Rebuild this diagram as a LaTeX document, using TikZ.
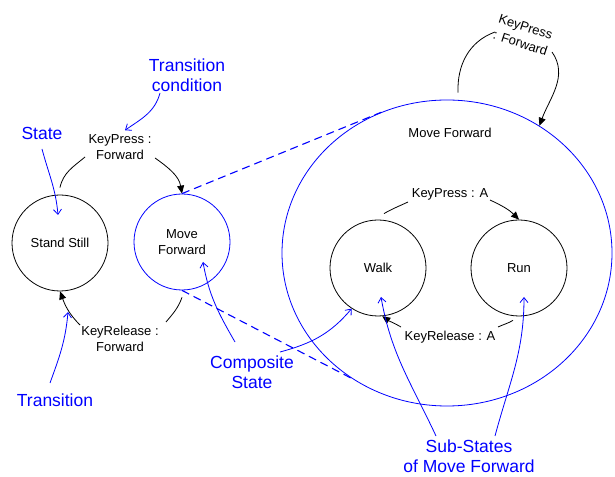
\documentclass[tikz,border=0pt]{standalone}
\usepackage{fontspec}
\setmainfont{Liberation Sans}
\usetikzlibrary{arrows.meta,shapes.geometric}
\begin{document}
\begin{tikzpicture}[x=1pt,y=1pt,
  state/.style={circle,draw,line width=0.8pt,minimum size=96pt,inner sep=0pt,font=\fontsize{13}{16}\selectfont,align=center},
  lbl/.style={font=\fontsize{13}{16}\selectfont,align=center,inner sep=1pt},
  note/.style={text=blue,font=\fontsize{17.5}{20}\selectfont,align=center,inner sep=1pt},
  trans/.style={line width=0.8pt},
  ntip/.style={-{Triangle[length=8pt,width=7pt]}},
  annot/.style={draw=blue,line width=0.8pt,-{Straight Barb[length=5pt,width=8pt]}},
  zoomline/.style={draw=blue,line width=1.1pt,dash pattern=on 8pt off 5pt}
]
\useasboundingbox (0,0) rectangle (615,476);

% states
\node[state] (ss) at (60,233) {Stand Still};
\node[state,draw=blue] (mf) at (182,234) {Move\\Forward};
\node[ellipse,draw=blue,line width=0.8pt,minimum width=330pt,minimum height=306pt] (big) at (447,223) {};
\node[lbl] (bigt) at (450,343) {Move Forward};
\node[state] (walk) at (378,208) {Walk};
\node[state] (run) at (519,208) {Run};

% transition labels
\node[lbl] (kp1) at (120,329) {KeyPress :\\Forward};
\node[lbl] (kr1) at (120,137) {KeyRelease :\\Forward};
\node[lbl] (kpA) at (450,282) {KeyPress : A};
\node[lbl] (krA) at (450,139) {KeyRelease : A};
\node[lbl,font=\fontsize{13}{17}\selectfont,rotate=-18] (kpl) at (523,441) {KeyPress\\: Forward};

% break points of the transitions at their labels
\coordinate (a1) at (85,319);  \coordinate (a2) at (155,318);
\coordinate (b1) at (166,154); \coordinate (b2) at (80,151);
\coordinate (c1) at (408,274); \coordinate (c2) at (490,276);
\coordinate (d1) at (498,149); \coordinate (d2) at (401,149);
\coordinate (e1) at (495,444); \coordinate (e2) at (552,424);

% transitions
\draw[trans] ([yshift=7pt]ss.north) to[out=78,in=-140] (a1);
\draw[trans,ntip] (a2) to[out=-35,in=100] (mf.north);
\draw[trans] ([yshift=-7pt]mf.south) to[out=-110,in=50] (b1);
\draw[trans,ntip] (b2) to[out=135,in=-70] (ss.south);
\draw[trans] ([shift={(6pt,6pt)}]walk.north) to[out=30,in=-155] (c1);
\draw[trans,ntip] (c2) to[out=-25,in=135] (run.north);
\draw[trans] ([shift={(-6pt,-4pt)}]run.south) to[out=-150,in=25] (d1);
\draw[trans,ntip] (d2) to[out=150,in=-35] (walk.-85);
\draw[trans] ([shift={(11pt,7pt)}]big.north) to[out=92,in=-160] (e1);
\draw[trans,ntip] (e2) to[out=-55,in=70] (big.54);

% zoom lines
\draw[zoomline] (mf.north) -- (big.115);
\draw[zoomline] (mf.south) -- (big.233);

% annotations
\node[note] (tc) at (187,401) {Transition\\condition};
\node[note] (stn) at (42,343) {State};
\node[note] (trn) at (55,76) {Transition};
\node[note] (cs) at (252,104) {Composite\\State};
\node[note] (sub) at (469,20) {Sub-States\\of Move Forward};

\coordinate (tca) at (160,383);
\coordinate (sta) at (42,327);
\coordinate (tra) at (50,93);
\coordinate (tre) at (68,164);
\coordinate (csa) at (235,134);
\coordinate (csb) at (280,124);
\coordinate (sua) at (436,40);
\coordinate (sub2) at (495,40);

\draw[annot] (tca) to[out=-105,in=35] ([shift={(5pt,3pt)}]kp1.north);
\draw[annot] (sta) to[out=-75,in=95] ([shift={(-2pt,28pt)}]ss.center);
\draw[annot] (tra) to[out=70,in=-95] (tre);
\draw[annot] (csa) to[out=120,in=-80] ([shift={(21pt,-20pt)}]mf.center);
\draw[annot] (csb) to[out=15,in=-130] (walk.237);
\draw[annot] (sua) to[out=115,in=-80] ([shift={(3pt,-29pt)}]walk.center);
\draw[annot] (sub2) to[out=75,in=-90] ([shift={(5pt,-29pt)}]run.center);
\end{tikzpicture}
\end{document}
